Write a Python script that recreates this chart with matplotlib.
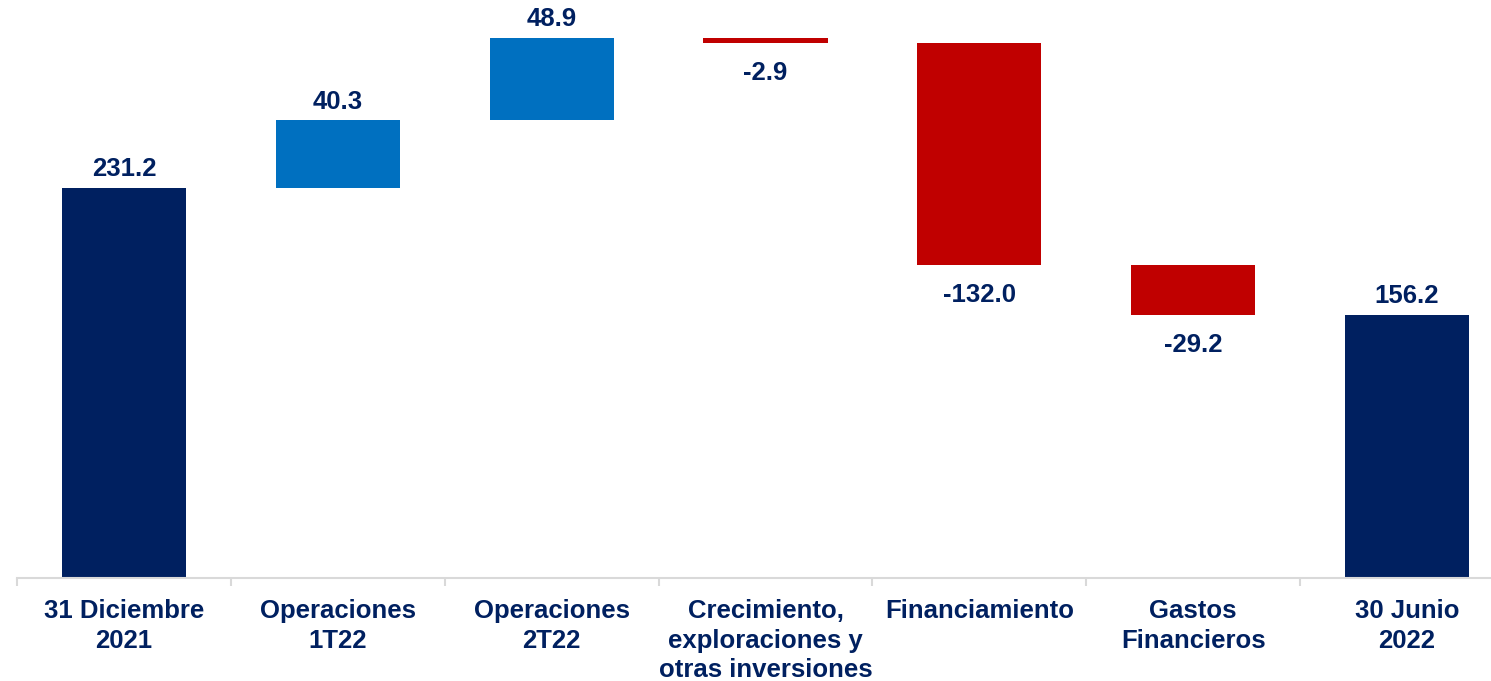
import matplotlib
matplotlib.use("Agg")
import matplotlib.pyplot as plt
import numpy as np

# cash flow bridge, USD millions
categories = ["31 Diciembre\n2021", "Operaciones\n1T22", "Operaciones\n2T22",
              "Crecimiento,\nexploraciones y\notras inversiones", "Financiamiento",
              "Gastos\nFinancieros", "30 Junio\n2022"]
changes = [231.2, 40.3, 48.9, -2.9, -132.0, -29.2, 156.2]
is_total = [True, False, False, False, False, False, True]

NAVY = "#002060"
BLUE = "#0070C0"
RED = "#C00000"
FS = 18.5

plt.rcParams["font.family"] = ["Liberation Sans", "DejaVu Sans"]
plt.rcParams["font.weight"] = "bold"

fig = plt.figure(figsize=(14.91, 6.81), dpi=100)
ax = fig.add_axes([17 / 1491, 103 / 681, 1497 / 1491, 578 / 681])

running = 0.0
x = np.arange(len(categories))
for i, (v, total) in enumerate(zip(changes, is_total)):
    if total:
        bottom, height, color = 0.0, v, NAVY
        running = v
    else:
        bottom = running if v >= 0 else running + v
        height = abs(v)
        color = BLUE if v >= 0 else RED
        running += v
    ax.bar(x[i], height, bottom=bottom, width=0.58, color=color, zorder=2)
    if v >= 0:
        ax.annotate(f"{v:.1f}", (x[i], bottom + height), xytext=(0, 5),
                    textcoords="offset points", ha="center", va="bottom",
                    fontsize=FS, color=NAVY, fontweight="bold")
    else:
        ax.annotate(f"{v:.1f}", (x[i], bottom), xytext=(0, -13),
                    textcoords="offset points", ha="center", va="top",
                    fontsize=FS, color=NAVY, fontweight="bold")

ax.set_xlim(-0.5, len(categories) - 0.5)
ax.set_ylim(0, 343)

for s in ["top", "right", "left"]:
    ax.spines[s].set_visible(False)
ax.spines["bottom"].set_color("#d9d9d9")
ax.spines["bottom"].set_linewidth(1.5)
ax.set_yticks([])

ax.set_xticks(x)
ax.set_xticklabels(categories, fontsize=FS, color=NAVY, fontweight="bold",
                   linespacing=1.3)
ax.tick_params(axis="x", which="major", length=0, pad=15)
ax.set_xticks(np.arange(-0.5, len(categories) - 0.5, 1), minor=True)
ax.tick_params(axis="x", which="minor", length=6, width=1.5, color="#d9d9d9")

fig.savefig("out.png", dpi=100)
